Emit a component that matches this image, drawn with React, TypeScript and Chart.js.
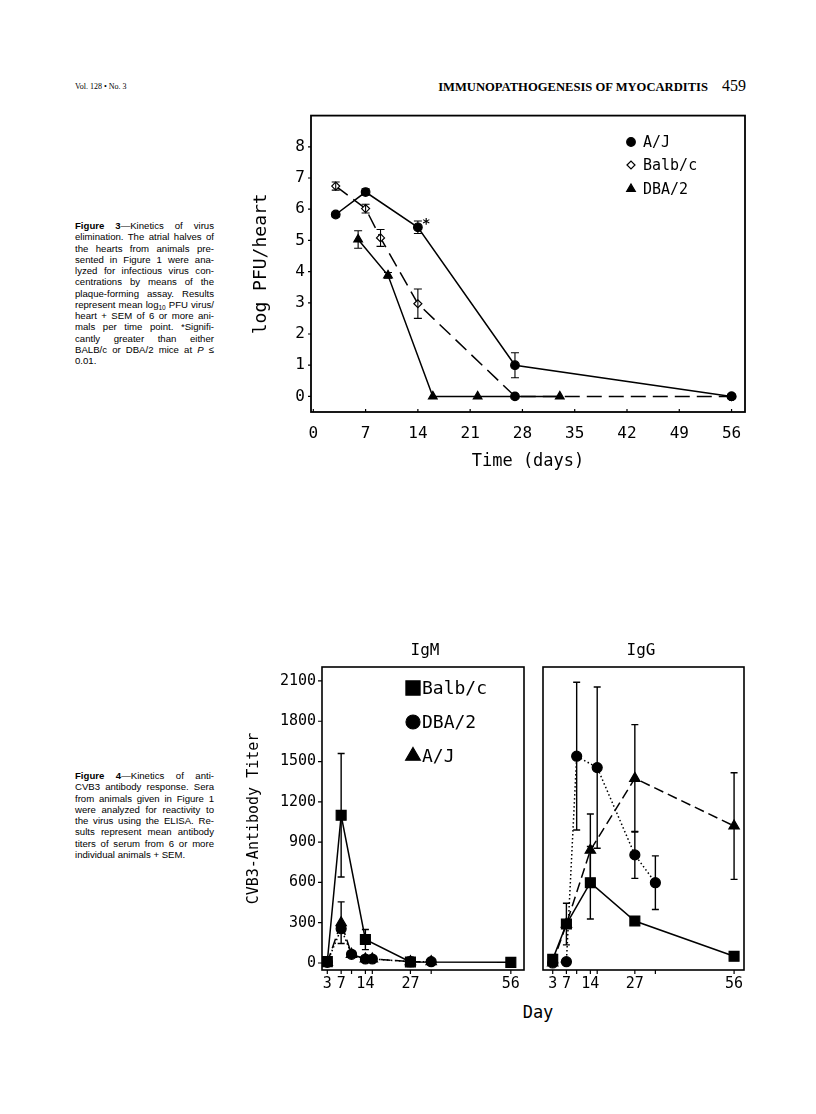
import React, { useEffect, useRef } from 'react';
import { Chart, registerables } from 'chart.js';
Chart.register(...registerables);

// ---------- Figure 3 data: log PFU/heart vs time (days) ----------
const FIG3_X_TICKS = [0, 7, 14, 21, 28, 35, 42, 49, 56];
const FIG3_Y_TICKS = [0, 1, 2, 3, 4, 5, 6, 7, 8];
const AJ3_DAYS = [3, 7, 14, 27, 56];
const AJ3_LOG = [5.83, 6.55, 5.42, 1.0, 0];
const AJ3_SEM = [0.08, 0.1, 0.2, 0.4, 0];
const BALB3_DAYS = [3, 7, 9, 14, 27, 56];
const BALB3_LOG = [6.74, 6.02, 5.08, 2.97, 0, 0];
const BALB3_SEM = [0.13, 0.14, 0.27, 0.47, 0, 0];
const DBA3_DAYS = [6, 10, 16, 22, 33];
const DBA3_LOG = [5.03, 3.88, 0, 0, 0];
const DBA3_SEM = [0.28, 0.09, 0, 0, 0];
const SIGNIF3_DAY = 15.1;
const SIGNIF3_LOG = 5.6;

// ---------- Figure 4 data: CVB3-antibody titer vs day ----------
const FIG4_X_TICKS = [3, 7, 10, 14, 16, 27, 33, 56];
const FIG4_X_LABELS = [3, 7, 14, 27, 56];
const FIG4_Y_TICKS = [0, 300, 600, 900, 1200, 1500, 1800, 2100];

const IGM_BALB_DAYS = [3, 7, 14, 27, 56];
const IGM_BALB = [10, 1100, 175, 8, 5];
const IGM_BALB_SEM = [0, 460, 75, 35, 20];
const IGM_DBA_DAYS = [3, 7, 10, 14, 16, 27, 33];
const IGM_DBA = [5, 255, 65, 30, 30, 10, 10];
const IGM_DBA_SEM = [0, 0, 0, 0, 0, 0, 0];
const IGM_AJ_DAYS = [3, 7, 10, 14, 16, 27, 33];
const IGM_AJ = [5, 300, 65, 30, 30, 10, 10];
const IGM_AJ_SEM = [0, 155, 15, 10, 10, 20, 15];

const IGG_BALB_DAYS = [3, 7, 14, 27, 56];
const IGG_BALB = [27, 290, 598, 313, 50];
const IGG_BALB_SEM = [0, 155, 270, 0, 0];
const IGG_DBA_DAYS = [3, 7, 10, 16, 27, 33];
const IGG_DBA = [0, 10, 1540, 1455, 805, 598];
const IGG_DBA_SEM = [0, 0, 550, 600, 175, 200];
const IGG_AJ_DAYS = [3, 7, 14, 27, 56];
const IGG_AJ = [0, 290, 840, 1375, 1020];
const IGG_AJ_SEM = [0, 0, 270, 400, 397];

const MONO = 'DejaVu Sans Mono';

function pts(days: number[], vals: number[]) {
  return days.map((d, i) => ({ x: d, y: vals[i] }));
}

function drawMarker(ctx: any, style: string, x: number, y: number, r: number, fill: string, lw: number) {
  ctx.beginPath();
  if (style === 'circle') ctx.arc(x, y, r, 0, Math.PI * 2);
  else if (style === 'rect') {
    const s = r * Math.SQRT1_2;
    ctx.rect(x - s, y - s, 2 * s, 2 * s);
  } else if (style === 'triangle') {
    ctx.moveTo(x, y - r);
    ctx.lineTo(x + r * 0.866, y + r * 0.5);
    ctx.lineTo(x - r * 0.866, y + r * 0.5);
    ctx.closePath();
  } else {
    ctx.moveTo(x - r, y);
    ctx.lineTo(x, y - r);
    ctx.lineTo(x + r, y);
    ctx.lineTo(x, y + r);
    ctx.closePath();
  }
  ctx.fillStyle = fill;
  ctx.fill();
  ctx.lineWidth = lw;
  ctx.strokeStyle = '#000';
  ctx.stroke();
}

const framePlugin = {
  id: 'frame',
  afterDraw(chart: any, _a: any, opts: any) {
    const { ctx, chartArea: a, scales } = chart;
    ctx.save();
    ctx.strokeStyle = '#000';
    ctx.lineWidth = opts.lineWidth || 1.5;
    ctx.strokeRect(a.left, a.top, a.right - a.left, a.bottom - a.top);
    ctx.lineWidth = 1.2;
    ctx.beginPath();
    scales.x.ticks.forEach((t: any) => {
      const px = scales.x.getPixelForValue(t.value);
      ctx.moveTo(px, a.bottom);
      ctx.lineTo(px, a.bottom + opts.xDir * opts.len);
    });
    if (opts.yTicks) {
      scales.y.ticks.forEach((t: any) => {
        const py = scales.y.getPixelForValue(t.value);
        ctx.moveTo(a.left, py);
        ctx.lineTo(a.left - opts.yDir * opts.len, py);
      });
    }
    ctx.stroke();
    ctx.restore();
  },
};

const errorBarPlugin = {
  id: 'errorBars',
  afterDatasetsDraw(chart: any, _a: any, opts: any) {
    const { ctx } = chart;
    const xs = chart.scales.x;
    const ys = chart.scales.y;
    ctx.save();
    ctx.strokeStyle = '#000';
    ctx.lineWidth = opts.lineWidth || 1.2;
    ctx.setLineDash([]);
    chart.data.datasets.forEach((ds: any) => {
      if (!ds.errors) return;
      ds.data.forEach((p: any, i: number) => {
        const e = ds.errors[i];
        if (!e) return;
        const x = xs.getPixelForValue(p.x);
        const y1 = ys.getPixelForValue(p.y + e);
        const y2 = ys.getPixelForValue(p.y - e);
        const c = opts.cap || 4;
        ctx.beginPath();
        ctx.moveTo(x, y1);
        ctx.lineTo(x, y2);
        ctx.moveTo(x - c, y1);
        ctx.lineTo(x + c, y1);
        ctx.moveTo(x - c, y2);
        ctx.lineTo(x + c, y2);
        ctx.stroke();
      });
    });
    ctx.restore();
  },
};

const insideLegendPlugin = {
  id: 'insideLegend',
  afterDraw(chart: any, _a: any, opts: any) {
    if (!opts || !opts.rows) return;
    const { ctx } = chart;
    ctx.save();
    chart.data.datasets.forEach((ds: any, i: number) => {
      const y = opts.rows[i];
      const m = ds.marker;
      drawMarker(ctx, m.style, opts.x, y, m.legendR, m.fill, 1.2);
      ctx.fillStyle = '#000';
      ctx.font = `${opts.size}px "${MONO}"`;
      ctx.textBaseline = 'middle';
      ctx.textAlign = 'left';
      ctx.fillText(ds.label, opts.textX, y + 1);
    });
    ctx.restore();
  },
};

const notePlugin = {
  id: 'note',
  afterDraw(chart: any, _a: any, opts: any) {
    if (!opts || !opts.text) return;
    const { ctx } = chart;
    const x = chart.scales.x.getPixelForValue(opts.x);
    const y = chart.scales.y.getPixelForValue(opts.y);
    ctx.save();
    ctx.fillStyle = '#000';
    ctx.font = `bold 14px "${MONO}"`;
    ctx.textAlign = 'center';
    ctx.textBaseline = 'middle';
    ctx.fillText(opts.text, x, y + 3);
    ctx.restore();
  },
};

function lineDs(label: string, days: number[], vals: number[], sem: number[], style: string, r: number, legendR: number, dash: number[], fill = '#000', extra: any = {}) {
  return {
    label,
    data: pts(days, vals),
    errors: sem,
    marker: { style, fill, legendR },
    borderColor: '#000',
    borderWidth: 1.5,
    borderDash: dash,
    tension: 0,
    fill: false,
    pointStyle: style,
    pointRadius: r,
    pointBackgroundColor: fill,
    pointBorderColor: '#000',
    pointBorderWidth: 1.2,
    ...extra,
  };
}

function axisCommon(min: number, max: number, tickVals: number[], size: number, padding: number, fit: (s: any) => void, labels?: number[], showTicks = true) {
  return {
    type: 'linear',
    min,
    max,
    afterBuildTicks: (s: any) => {
      s.ticks = tickVals.map((v) => ({ value: v }));
    },
    afterFit: fit,
    grid: { display: false, drawTicks: false },
    border: { display: false },
    ticks: {
      display: showTicks,
      padding,
      color: '#000',
      autoSkip: false,
      maxRotation: 0,
      minRotation: 0,
      font: { family: MONO, size },
      callback: (v: any) => (labels ? (labels.includes(v) ? String(v) : '') : String(v)),
    },
  };
}

function fig3Config() {
  return {
    type: 'line',
    data: {
      datasets: [
        lineDs('A/J', AJ3_DAYS, AJ3_LOG, AJ3_SEM, 'circle', 4.3, 4.3, []),
        lineDs('Balb/c', BALB3_DAYS, BALB3_LOG, BALB3_SEM, 'rectRot', 4, 4, [15, 7], '#fff', {
          pointStyle: BALB3_LOG.map((v) => (v === 0 ? 'circle' : 'rectRot')),
          pointRadius: BALB3_LOG.map((v) => (v === 0 ? 4.3 : 4)),
          pointBackgroundColor: BALB3_LOG.map((v) => (v === 0 ? '#000' : '#fff')),
        }),
        lineDs('DBA/2', DBA3_DAYS, DBA3_LOG, DBA3_SEM, 'triangle', 5, 5, []),
      ],
    },
    options: {
      animation: false,
      responsive: false,
      events: [],
      layout: { padding: { top: 15, right: 25, left: 0, bottom: 0 }, autoPadding: false },
      plugins: {
        legend: { display: false },
        tooltip: { enabled: false },
        frame: { lineWidth: 1.8, xDir: -1, yDir: 1, len: 3, yTicks: true },
        errorBars: { cap: 4, lineWidth: 1.1 },
        insideLegend: { x: 431, textX: 443, rows: [42, 65, 89], size: 15 },
        note: { x: SIGNIF3_DAY, y: SIGNIF3_LOG, text: '*' },
      },
      scales: {
        x: {
          ...axisCommon(-0.31, 57.8, FIG3_X_TICKS, 16, 12, (s: any) => { s.height = 68; }),
          title: { display: true, text: 'Time (days)', color: '#000', font: { family: MONO, size: 17 }, padding: { top: 0, bottom: 8 } },
        },
        y: {
          ...axisCommon(-0.5, 9.0, FIG3_Y_TICKS, 16, 6, (s: any) => { s.width = 111; }),
          title: { display: true, text: 'log PFU/heart', color: '#000', font: { family: MONO, size: 18 }, padding: { top: 51, bottom: 0 } },
        },
      },
    },
    plugins: [framePlugin, errorBarPlugin, insideLegendPlugin, notePlugin],
  };
}

function fig4Datasets(balb: [number[], number[], number[]], dba: [number[], number[], number[]], aj: [number[], number[], number[]]) {
  return [
    lineDs('Balb/c', balb[0], balb[1], balb[2], 'rect', 7, 10, []),
    lineDs('DBA/2', dba[0], dba[1], dba[2], 'circle', 5, 7, [1.5, 2.5]),
    lineDs('A/J', aj[0], aj[1], aj[2], 'triangle', 6, 8.5, [10, 5]),
  ];
}

function fig4Config(isIgM: boolean) {
  const datasets = isIgM
    ? fig4Datasets([IGM_BALB_DAYS, IGM_BALB, IGM_BALB_SEM], [IGM_DBA_DAYS, IGM_DBA, IGM_DBA_SEM], [IGM_AJ_DAYS, IGM_AJ, IGM_AJ_SEM])
    : fig4Datasets([IGG_BALB_DAYS, IGG_BALB, IGG_BALB_SEM], [IGG_DBA_DAYS, IGG_DBA, IGG_DBA_SEM], [IGG_AJ_DAYS, IGG_AJ, IGG_AJ_SEM]);
  const yAxis: any = axisCommon(-52, 2204, FIG4_Y_TICKS, 15, 6, (s: any) => { s.width = isIgM ? 92 : 8; }, undefined, isIgM);
  if (isIgM) {
    yAxis.title = { display: true, text: 'CVB3-Antibody Titer', color: '#000', font: { family: MONO, size: 15 }, padding: { top: 15, bottom: 0 } };
  }
  return {
    type: 'line',
    data: { datasets },
    options: {
      animation: false,
      responsive: false,
      events: [],
      layout: { padding: { top: 15, right: 6, left: 0, bottom: 0 }, autoPadding: false },
      plugins: {
        legend: { display: false },
        tooltip: { enabled: false },
        frame: { lineWidth: 1.6, xDir: 1, yDir: 1, len: 4, yTicks: isIgM },
        errorBars: { cap: 3.5, lineWidth: 1.4 },
        insideLegend: isIgM ? { x: 183, textX: 192, rows: [36, 70, 104], size: 18 } : {},
      },
      scales: {
        x: axisCommon(isIgM ? 1.47 : 0.16, isIgM ? 59.8 : 58.9, FIG4_X_TICKS, 15, 5, (s: any) => { s.height = 30; }, FIG4_X_LABELS),
        y: yAxis,
      },
    },
    plugins: [framePlugin, errorBarPlugin, insideLegendPlugin],
  };
}

const jl: React.CSSProperties = { textAlign: 'justify', textAlignLast: 'justify' as any, height: 11.25 };
const ll: React.CSSProperties = { textAlign: 'left', height: 11.25 };
const captionStyle: React.CSSProperties = {
  position: 'absolute',
  left: 75,
  width: 139,
  fontFamily: '"Liberation Sans", Arial, sans-serif',
  fontSize: 9.6,
  lineHeight: '11.25px',
  color: '#000',
};
const sub: React.CSSProperties = { fontSize: 6.5, position: 'relative', top: 2, verticalAlign: 'baseline' };

export default function App() {
  const c3 = useRef<HTMLCanvasElement>(null);
  const cm = useRef<HTMLCanvasElement>(null);
  const cg = useRef<HTMLCanvasElement>(null);

  useEffect(() => {
    const charts = [
      new Chart(c3.current as any, fig3Config() as any),
      new Chart(cm.current as any, fig4Config(true) as any),
      new Chart(cg.current as any, fig4Config(false) as any),
    ];
    return () => charts.forEach((c) => c.destroy());
  }, []);

  const abs = (left: number, top: number, w: number, h: number): React.CSSProperties => ({ position: 'absolute', left, top, width: w, height: h });
  const label = (text: string, cx: number, cy: number, size: number) => (
    <div style={{ position: 'absolute', left: cx - 100, top: cy - size * 0.6, width: 200, textAlign: 'center', fontFamily: MONO, fontSize: size, lineHeight: `${size * 1.2}px`, color: '#000' }}>{text}</div>
  );

  return (
    <div style={{ position: 'absolute', left: 0, top: 0, width: 816, height: 1114, background: '#fff', overflow: 'hidden' }}>
      <div style={{ position: 'absolute', left: 75, top: 81, fontFamily: '"Liberation Serif", serif', fontSize: 8, lineHeight: '12px', color: '#000' }}>Vol. 128 • No. 3</div>
      <div style={{ position: 'absolute', right: 108, top: 79, fontFamily: '"Liberation Serif", serif', fontWeight: 'bold', fontSize: 12.6, lineHeight: '16px', color: '#000' }}>IMMUNOPATHOGENESIS OF MYOCARDITIS</div>
      <div style={{ position: 'absolute', left: 722, top: 77, fontFamily: '"Liberation Serif", serif', fontSize: 16, lineHeight: '18px', color: '#000' }}>459</div>

      <div style={{ ...captionStyle, top: 220 }}>
        <div style={jl}><b>Figure 3</b>—Kinetics of virus</div>
        <div style={jl}>elimination. The atrial halves of</div>
        <div style={jl}>the hearts from animals pre-</div>
        <div style={jl}>sented in Figure 1 were ana-</div>
        <div style={jl}>lyzed for infectious virus con-</div>
        <div style={jl}>centrations by means of the</div>
        <div style={jl}>plaque-forming assay. Results</div>
        <div style={jl}>represent mean log<span style={sub}>10</span> PFU virus/</div>
        <div style={jl}>heart + SEM of 6 or more ani-</div>
        <div style={jl}>mals per time point. *Signifi-</div>
        <div style={jl}>cantly greater than either</div>
        <div style={jl}>BALB/c or DBA/2 mice at <i>P</i> ≤</div>
        <div style={ll}>0.01.</div>
      </div>

      <div style={{ ...captionStyle, top: 770 }}>
        <div style={jl}><b>Figure 4</b>—Kinetics of anti-</div>
        <div style={jl}>CVB3 antibody response. Sera</div>
        <div style={jl}>from animals given in Figure 1</div>
        <div style={jl}>were analyzed for reactivity to</div>
        <div style={jl}>the virus using the ELISA. Re-</div>
        <div style={jl}>sults represent mean antibody</div>
        <div style={jl}>titers of serum from 6 or more</div>
        <div style={ll}>individual animals + SEM.</div>
      </div>

      <canvas ref={c3} width={570} height={380} style={abs(200, 100, 570, 380)} />
      <canvas ref={cm} width={300} height={348} style={abs(230, 652, 300, 348)} />
      <canvas ref={cg} width={215} height={348} style={abs(535, 652, 215, 348)} />

      {label('IgM', 425, 650, 16)}
      {label('IgG', 641, 650, 16)}
      {label('Day', 538, 1012, 17)}
    </div>
  );
}
